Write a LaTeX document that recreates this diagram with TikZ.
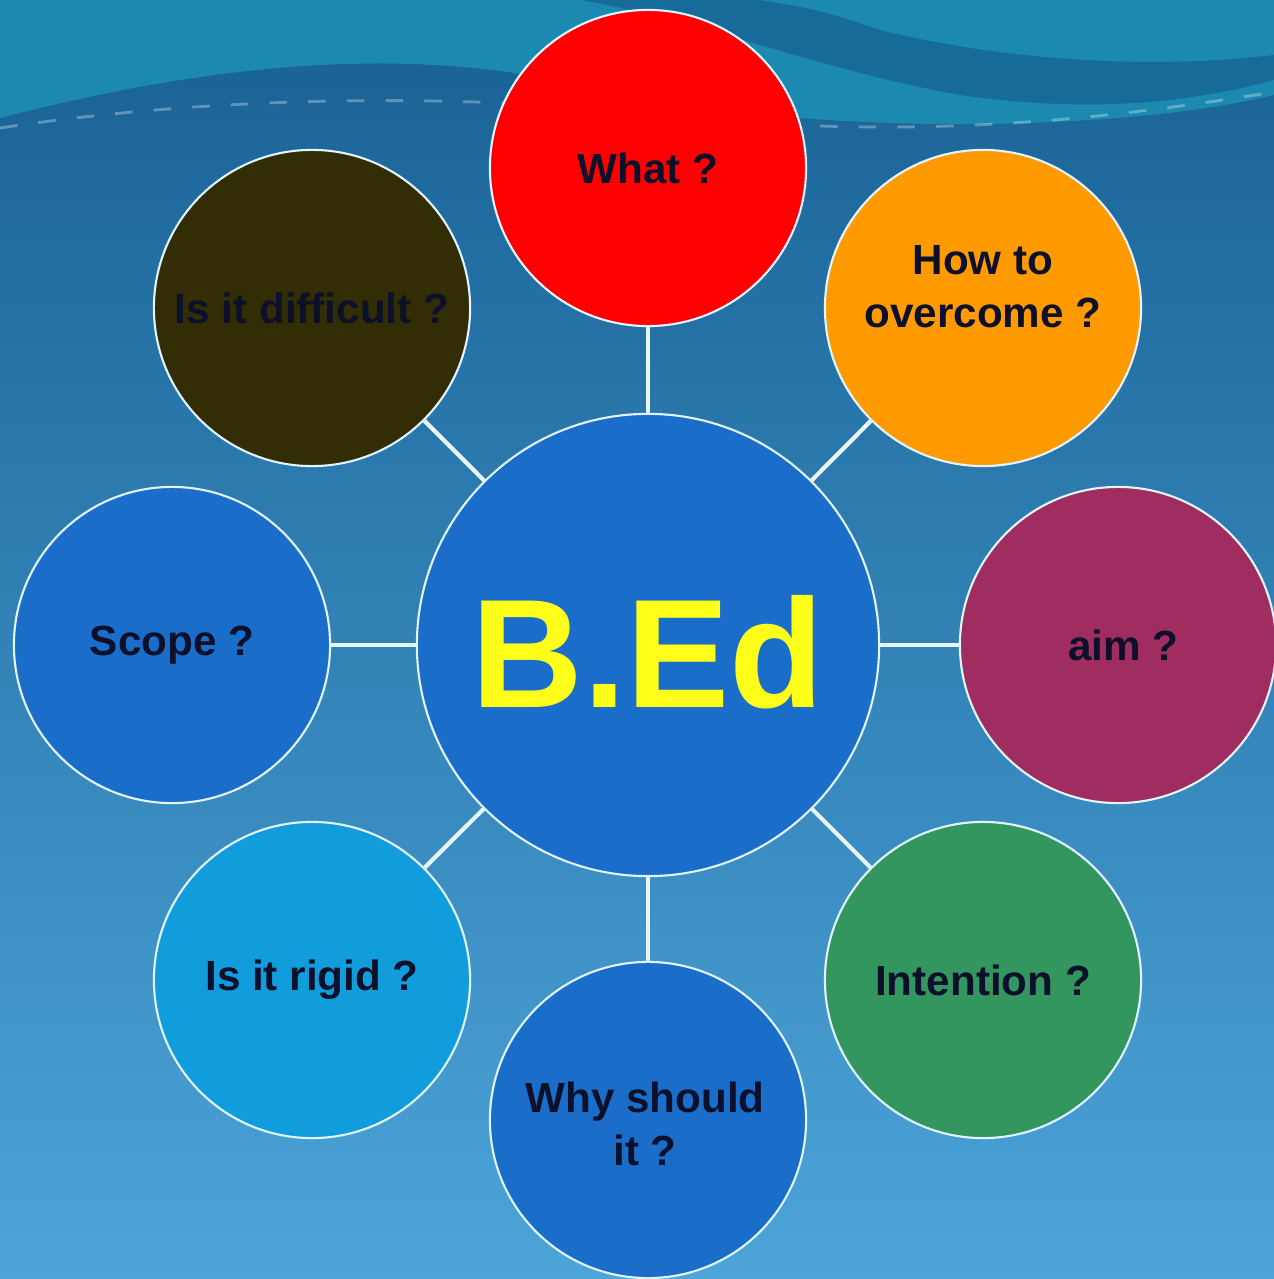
\documentclass[tikz,border=0pt]{standalone}
\usepackage{fontspec}
\setmainfont{Liberation Sans}
\usetikzlibrary{calc}

\definecolor{bgtop}{RGB}{24,96,148}
\definecolor{bgmid}{RGB}{40,128,180}
\definecolor{bgbot}{RGB}{76,164,216}
\definecolor{seatop}{RGB}{28,138,176}
\definecolor{swirl}{RGB}{18,78,132}
\definecolor{rim}{RGB}{225,244,255}
\definecolor{spoke}{RGB}{230,246,255}
\definecolor{ink}{RGB}{12,16,42}
\definecolor{hub}{RGB}{26,110,202}
\definecolor{cred}{RGB}{255,0,0}
\definecolor{corange}{RGB}{255,155,0}
\definecolor{cplum}{RGB}{160,45,95}
\definecolor{cgreen}{RGB}{52,150,95}
\definecolor{csky}{RGB}{17,157,220}
\definecolor{colive}{RGB}{50,45,5}
\definecolor{bedyellow}{RGB}{255,255,26}

\tikzset{
  bubble/.style={circle, draw=rim, line width=0.6pt, minimum size=3.16cm, inner sep=0pt,
    text=ink, align=center, font=\bfseries\fontsize{12}{15}\selectfont},
  caption/.style={text=ink, align=center, font=\bfseries\fontsize{12}{15}\selectfont},
  link/.style={draw=spoke, line width=1.2pt},
  sparkle/.style={draw=white, opacity=0.3, line width=0.8pt, dash pattern=on 5pt off 6pt}
}

\begin{document}
\begin{tikzpicture}[x=0.01cm, y=-0.01cm]
\useasboundingbox (0,0) rectangle (1274,1279);
\shade[top color=bgtop, middle color=bgmid, bottom color=bgbot] (0,0) rectangle (1274,1279);

% waves at the top
\fill[seatop] (0,0) -- (1274,0) -- (1274,95) .. controls (1150,125) and (950,130) .. (800,118)
  -- (650,105) .. controls (500,55) and (300,40) .. (0,118) -- cycle;
\fill[swirl, opacity=0.5] (580,0) .. controls (700,20) and (820,70) .. (960,95)
  .. controls (1100,115) and (1200,100) .. (1274,80) -- (1274,55)
  .. controls (1150,70) and (1000,60) .. (880,30) .. controls (820,10) .. (760,0) -- cycle;
\draw[sparkle] (0,128) .. controls (200,98) and (400,96) .. (560,106);
\draw[sparkle] (820,126) .. controls (1000,132) and (1150,112) .. (1274,92);

\node[bubble, fill=hub, minimum size=4.62cm] (bed) at (648,645) {};
\node[text=bedyellow, font=\bfseries\fontsize{44}{44}\selectfont] (bedtxt) at (648,652) {B.Ed};

\node[bubble, fill=cred] (what) at (648,168) {What ?};
\node[bubble, fill=corange] (how) at (983,308) {};
\node[caption] (howtxt) at (983,287) {How to\\overcome ?};
\node[bubble, fill=cplum] (aim) at (1118,645) {\hspace{3pt}aim ?};
\node[bubble, fill=cgreen] (intent) at (983,980) {Intention ?};
\node[bubble, fill=hub] (why) at (648,1120) {};
\node[caption] (whytxt) at (645,1124) {Why should\\it ?};
\node[bubble, fill=csky] (rigid) at (312,980) {Is it rigid ?};
\node[bubble, fill=hub] (scope) at (172,645) {Scope ?};
\node[bubble, fill=colive] (hard) at (312,308) {Is it difficult ?};

\foreach \n in {what,how,aim,intent,why,rigid,scope,hard}
  \draw[link] (bed) -- (\n);

\end{tikzpicture}
\end{document}
